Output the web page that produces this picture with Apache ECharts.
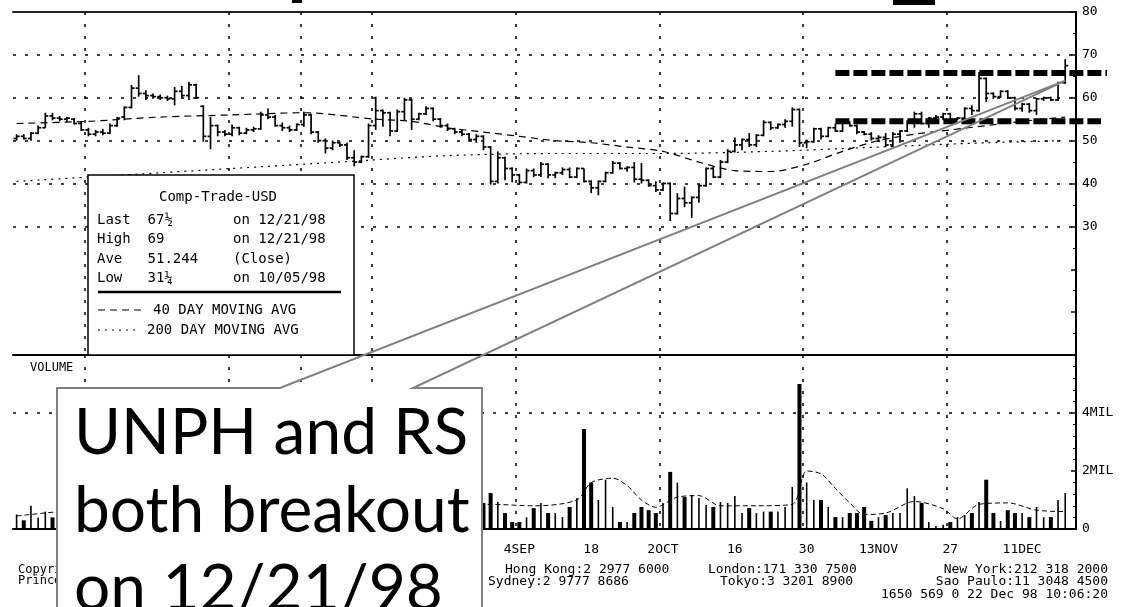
<!DOCTYPE html>
<html>
<head>
<meta charset="utf-8">
<title>UNPH breakout</title>
<script src="https://cdn.jsdelivr.net/npm/echarts@6/dist/echarts.min.js"></script>
<style>
  html, body { margin: 0; padding: 0; background: #fff; }
  #chart { width: 1121px; height: 607px; }
</style>
</head>
<body>
<div id="chart"></div>
<script>
// daily bars, [open, high, low, close], one per trading day from 29 May 1998
const bars = [
  [50.5,51.5,50,51],[51,51.5,50.25,50.5],[50.5,52,50,51.75],[51.75,53.5,51.5,53],[53,56.5,53,55.75],
  [55.75,56.5,54.75,55.25],[55.25,55.75,54.5,55],[55,55.5,54.25,55.25],[55,55.25,53.75,54],[54,54.5,52.25,52.5],
  [52.5,53,51,51.5],[51.5,52.5,51,52],[52,52.75,51.25,51.75],[51.75,54,51.5,53.5],[53.5,55.5,53.25,55.25],
  [55.5,58,54.75,57.75],[57.75,63,57.5,62.25],[62.25,65.25,60.25,61],[61,61.75,59.5,60.5],[60.5,61,59.75,60.25],
  [60.25,60.75,59.5,60],[60,60.5,59.25,59.75],[59.75,62.5,58.25,61.5],[61.5,62.75,60,60.5],[60.5,63.75,59.5,63],
  [63,63.25,59.75,60],[58,58.25,49.75,51],[51,55.5,48,53.5],[53.5,53.75,51,52],[52,52.5,51,51.5],
  [51.5,53.75,51,53],[53,53.25,51.25,51.75],[51.75,53,51.5,52.5],[52.5,53.25,52,52.75],[52.75,56.75,52.5,56],
  [56,57.5,55,55.5],[55.5,56,53.25,53.5],[53.5,54.25,52.25,53],[53,53.5,52,52.5],[52.5,54,52.25,53.75],
  [53.75,56.75,53.25,56],[56,56.25,51.5,52],[52,52.25,49.5,50],[50,50.5,47,48.25],[48.25,50,47.75,49.5],
  [49.5,49.75,48.5,49],[49,49.5,45.5,46],[46,47.75,44,45],[45,46.5,44.75,46.25],[46.25,54,46,53.5],
  [53.5,60.25,52.5,57],[57,57.25,53.25,56.5],[56.5,56.75,51,52.25],[52.25,57.25,52,56.75],[56.75,60,54.75,59.5],
  [59.5,59.75,52.5,55],[55,56.5,54.75,56.25],[56.25,58,56,57.5],[57.5,57.75,54.5,55],[55,55.25,53,53.5],
  [53.5,54,52.25,52.75],[52.75,53,51.5,52],[52,52.5,51,51.5],[51.5,51.75,49.75,50.25],[50.25,51.5,49.5,51],
  [51,51.25,47.75,48.5],[48.5,48.75,39.75,40.5],[40.5,47.5,40,46],[46,46.25,40.75,43.5],[43.5,43.75,40.25,42],
  [42,42.25,39.75,40.25],[40.25,43.5,40,43],[43,43.5,41.5,42],[42,45,41.5,44.5],[44.5,44.75,41.25,42],
  [42,42.75,41.25,42.5],[42.5,43.75,42,43.25],[43.25,43.75,41.25,41.5],[41.5,43.75,41.25,43.5],[43.5,43.5,40.25,40.5],
  [40.5,40.75,37.75,39],[39,40.75,37.25,40.5],[40.5,42.75,40.25,42.5],[42.5,45.25,42.25,44.75],[44.75,45,43.25,43.5],
  [43.5,44,42.75,43.75],[43.75,45,40.25,41],[41,44.75,40,40.75],[40.75,41,39.25,39.5],[39.5,40.5,38,38.5],
  [38.5,40.25,38.25,40],[40,40.25,31.25,33],[33,37.75,32.75,36.5],[36.5,39.25,34.5,35.5],[35.5,37,32,36.75],
  [36.75,39.75,35.5,39.5],[39.5,43.75,39.25,43.5],[43.5,44,41.25,41.5],[41.5,45.5,41.25,45],[45,48,44.75,47.5],
  [47.5,50.75,47.25,49],[49,50.5,47.75,50.25],[50.25,51.75,48.5,49],[49,51.5,48.5,51.25],[51.25,54.75,51,54.25],
  [54.25,54.5,52.5,53],[53,54,52.75,53.75],[53.75,55,53,54.5],[54.5,57.75,53.25,57.25],[57.25,57.5,48.5,49.5],
  [49.5,50.25,48.25,49.75],[49.75,53,49.5,52.75],[52.75,53,50.25,51],[51,53.25,50.75,53],[53,54,52,52.25],
  [52.25,54.5,52,54.25],[54.25,54.5,53.25,53.5],[53.5,53.75,51.5,52],[52,52.25,51.25,51.5],[51.5,52,50,50.5],
  [50.5,51.25,49.75,50.75],[50.75,51.75,48.5,49],[49,52,48.5,51.5],[51.5,52.5,49.5,52.25],[52.25,54.75,52,54.5],
  [54.5,56.75,53,56.25],[56.25,56.75,53.75,54],[54,55.5,53,55.25],[55.25,56,54,55.5],[55.5,56.5,54.75,56.25],
  [56.25,56.5,54.75,55],[55,55.5,54.75,55.25],[55.25,57.75,55,57.5],[57.5,58.25,56,57],[57,66,56.75,64.5],
  [64.5,64.75,59,61],[61,61.25,59.75,60.25],[60.25,61.75,60,61.5],[61.5,61.75,59.75,60],[60,60.25,57,57.5],
  [57.5,58.75,56.75,58.5],[58.5,58.75,56.5,57],[57,60,56,59.75],[59.75,60.25,59.25,60],[60,60.25,59.25,59.5],
  [59.5,63.75,59.25,63.5],[63.5,69,63.25,67.5]
];

// volume in millions
const volume = [
  0.5,0.3,0.8,0.4,0.6,0.4,
  0.6,0.9,0.5,0.7,1.1,0.8,0.6,0.5,1.4,1.9, 1.2,0.9,0.7,0.8,0.6,0.5,0.9,1.0,0.7,0.6,
  0.5,0.8,1.2,0.9,0.7,0.6,0.8,0.5,0.4,0.7, 0.9,1.1,0.8,0.6,0.7,0.5,0.6,0.9,1.3,1.0,
  0.8,0.7,0.6,0.9,1.2,1.5,1.1,0.8,0.7,0.6, 0.5,0.7,0.9,0.8,0.6,0.5,0.7,1.0,1.3,0.9,
  1.24,0.93,0.55,0.24,0.24,0.4,0.72,0.9,0.55,0.55,
  0.41,0.76,1.07,3.45,1.6,1.0,1.7,0.76,0.24,0.24,
  0.55,0.76,0.65,0.55,0.9,1.97,1.6,1.1,1.17,1.07,
  0.83,0.76,0.93,0.9,1.14,0.55,0.72,0.55,0.6,0.6,
  0.6,0.76,1.45,5.0,1.6,1.0,1.0,0.76,0.41,0.41,
  0.55,0.55,0.76,0.28,0.41,0.48,0.55,0.55,1.4,1.14,
  0.9,0.24,0.1,0.15,0.24,0.41,0.48,0.55,0.93,1.7,
  0.55,0.28,0.65,0.55,0.55,0.41,0.76,0.41,0.41,1.0,
  1.24
];

// moving averages, [day index, value]
const ma40 = [[0,54],[10,54.5],[20,55.5],[30,56],[40,56.5],[50,55],[55,54.5],[60,53],[65,52],[70,51],
  [75,50],[80,49.5],[85,48.5],[90,47.5],[95,45],[100,43],[105,42.8],[110,44.5],[115,47.5],[120,50],
  [125,51.5],[130,52.5],[135,53.5],[140,54.5],[146,55.5]];
const ma200 = [[0,40.5],[15,42],[30,43.5],[45,45],[60,46.5],[75,47],[90,47],[105,47.5],[120,48.5],[135,49.5],[146,50]];
const volAvg = [[0,0.45],[10,0.7],[20,0.9],[30,0.8],[40,0.7],[50,0.9],[60,0.8],[66,0.85],[72,0.8],[78,1.0],
  [80,1.6],[83,1.75],[85,1.5],[87,1.0],[89,0.75],[92,1.1],[95,1.15],[98,0.8],[103,0.8],[108,0.85],
  [110,2.0],[112,1.9],[114,1.4],[116,0.9],[118,0.5],[121,0.55],[125,0.95],[129,0.7],[131,0.35],[134,0.85],
  [138,0.9],[142,0.65],[146,0.6]];

const priceGrid = [30, 40, 50, 60, 70];
const volGrid = [4];
const resistance = [65.75, 54.5];
const tickLabels = {'6/12':'12JUN','6/26':'26','7/10':'10JUL','7/24':'24','8/7':'7AUG','8/21':'21',
  '9/4':'4SEP','9/18':'18','10/2':'2OCT','10/16':'16','10/30':'30','11/13':'13NOV','11/27':'27','12/11':'11DEC'};
const gridDates = ['6/12','7/10','7/24','8/7','9/4','10/2','10/30','11/27'];

// weekday calendar, 29 May 1998 .. 22 Dec 1998
const dates = [];
for (let t = Date.UTC(1998, 4, 29); dates.length < 148; t += 86400000) {
  const d = new Date(t);
  const wd = d.getUTCDay();
  if (wd > 0 && wd < 6) dates.push((d.getUTCMonth() + 1) + '/' + d.getUTCDate());
}

const MONO = '"DejaVu Sans Mono", monospace';
const dotted = {color: '#000', width: 1.5, type: [3, 9]};

function renderBar(params, api) {
  const i = api.value(0);
  const o = api.coord([i, api.value(1)]);
  const h = api.coord([i, api.value(2)]);
  const l = api.coord([i, api.value(3)]);
  const c = api.coord([i, api.value(4)]);
  const w = api.size([1, 0])[0] * 0.42;
  const st = {stroke: '#000', lineWidth: 1.7};
  return {type: 'group', children: [
    {type: 'line', shape: {x1: h[0], y1: h[1], x2: l[0], y2: l[1]}, style: st},
    {type: 'line', shape: {x1: o[0] - w, y1: o[1], x2: o[0], y2: o[1]}, style: st},
    {type: 'line', shape: {x1: c[0], y1: c[1], x2: c[0] + w, y2: c[1]}, style: st}
  ]};
}

function renderVol(params, api) {
  const i = api.value(0);
  const top = api.coord([i, api.value(1)]);
  const base = api.coord([i, 0]);
  const w = api.value(2) ? 4 : 1.6;
  return {type: 'rect', shape: {x: top[0] - w / 2, y: top[1], width: w, height: base[1] - top[1]}, style: {fill: '#000'}};
}

const chart = echarts.init(document.getElementById('chart'));

chart.setOption({
  animation: false,
  backgroundColor: '#fff',
  grid: [
    {left: 13, right: 45, top: 12, height: 343, outerBoundsMode: 'none'},
    {left: 13, right: 45, top: 355, height: 174, outerBoundsMode: 'none'}
  ],
  xAxis: [
    {
      type: 'category', gridIndex: 0, data: dates,
      axisLine: {lineStyle: {color: '#000', width: 2}},
      axisTick: {interval: (i) => i % 5 === 0, length: 5, lineStyle: {color: '#000', width: 1.5}},
      axisLabel: {show: false},
      splitLine: {show: true, interval: (i, v) => gridDates.includes(v), lineStyle: dotted}
    },
    {
      type: 'category', gridIndex: 0, position: 'top', data: dates,
      axisLine: {lineStyle: {color: '#222', width: 2}},
      axisTick: {show: false}, axisLabel: {show: false}
    },
    {
      type: 'category', gridIndex: 1, data: dates,
      axisLine: {lineStyle: {color: '#000', width: 2}},
      axisTick: {show: false},
      axisLabel: {
        interval: (i, v) => v in tickLabels,
        formatter: (v) => tickLabels[v] || '',
        color: '#000', fontFamily: MONO, fontSize: 13, margin: 14
      },
      splitLine: {show: true, interval: (i, v) => gridDates.includes(v), lineStyle: dotted}
    }
  ],
  yAxis: [
    {
      type: 'value', gridIndex: 0, position: 'right', min: 0, max: 80, interval: 10,
      axisLine: {show: true, lineStyle: {color: '#000', width: 2}},
      axisTick: {show: true, inside: true, length: 5, lineStyle: {color: '#000', width: 1.5}},
      minorTick: {show: true, splitNumber: 2, length: 3, lineStyle: {color: '#000'}},
      axisLabel: {formatter: (v) => v >= 30 ? String(v) : '', color: '#000', fontFamily: MONO, fontSize: 13, margin: 6},
      splitLine: {show: false}
    },
    {
      type: 'value', gridIndex: 1, position: 'right', min: 0, max: 6, interval: 2,
      axisLine: {show: true, lineStyle: {color: '#000', width: 2}},
      axisTick: {show: true, inside: true, length: 5, lineStyle: {color: '#000', width: 1.5}},
      minorTick: {show: true, splitNumber: 5, length: 3, lineStyle: {color: '#000'}},
      axisLabel: {formatter: (v) => v === 0 ? '0' : (v < 6 ? v + 'MIL' : ''), color: '#000', fontFamily: MONO, fontSize: 13, margin: 6},
      splitLine: {show: false}
    }
  ],
  series: [
    {
      type: 'custom', name: 'price', xAxisIndex: 0, yAxisIndex: 0,
      renderItem: renderBar,
      encode: {x: 0, y: [1, 2, 3, 4]},
      data: bars.map((b, i) => [i, b[0], b[1], b[2], b[3]]),
      z: 5
    },
    {
      type: 'line', name: '40 DAY MOVING AVG', xAxisIndex: 0, yAxisIndex: 0,
      data: ma40, showSymbol: false, smooth: 0.3,
      lineStyle: {color: '#000', width: 1.2, type: [7, 5]},
      markLine: {
        silent: true, symbol: ['none', 'none'], label: {show: false},
        lineStyle: dotted,
        data: priceGrid.map((v) => ({yAxis: v}))
      },
      z: 3
    },
    {
      type: 'line', name: '200 DAY MOVING AVG', xAxisIndex: 0, yAxisIndex: 0,
      data: ma200, showSymbol: false, smooth: 0.3,
      lineStyle: {color: '#000', width: 1.2, type: [2, 5]},
      z: 3
    },
    {
      type: 'custom', name: 'volume', xAxisIndex: 2, yAxisIndex: 1,
      renderItem: renderVol,
      encode: {x: 0, y: 1},
      data: volume.map((v, i) => [i, v, bars[i][3] < bars[i][0] ? 1 : 0]),
      z: 5
    },
    {
      type: 'line', name: 'volume avg', xAxisIndex: 2, yAxisIndex: 1,
      data: volAvg, showSymbol: false, smooth: 0.3,
      lineStyle: {color: '#000', width: 1, type: [5, 3]},
      markLine: {
        silent: true, symbol: ['none', 'none'], label: {show: false},
        lineStyle: dotted,
        data: volGrid.map((v) => ({yAxis: v}))
      },
      z: 4
    }
  ]
});

// annotation layer, anchored on the chart's own scales
const px = (idx, price) => chart.convertToPixel({xAxisIndex: 0, yAxisIndex: 0}, [dates[idx], price]);
const axisRight = 1121 - 45;
const apex = px(146, 64);

const txt = (text, x, y, opts) => Object.assign({
  type: 'text', z: 100,
  style: Object.assign({text: text, x: x, y: y, fill: '#000', font: '14px ' + MONO, verticalAlign: 'middle'}, opts || {})
});

const graphic = [];

// clipped title strip at the very top
graphic.push({type: 'rect', z: 100, shape: {x: 893, y: 0, width: 42, height: 5}, style: {fill: '#000'}});
graphic.push({type: 'rect', z: 100, shape: {x: 292, y: 0, width: 10, height: 3}, style: {fill: '#000'}});

// resistance levels
resistance.forEach((lvl, k) => {
  const a = px(114, lvl);
  graphic.push({type: 'line', z: 90,
    shape: {x1: a[0], y1: a[1], x2: axisRight + (k === 0 ? 31 : 25), y2: a[1]},
    style: {stroke: '#000', lineWidth: 6, lineDash: [14, 4]}});
});

// stats box
graphic.push({type: 'rect', z: 95, shape: {x: 88, y: 175, width: 266, height: 180}, style: {fill: '#fff', stroke: '#000', lineWidth: 1.5}});
graphic.push(txt('Comp-Trade-USD', 218, 197, {align: 'center'}));
[['Last  67½', 'on 12/21/98', 220], ['High  69', 'on 12/21/98', 239], ['Ave   51.244', '(Close)', 259], ['Low   31¼', 'on 10/05/98', 278]]
  .forEach((r) => { graphic.push(txt(r[0], 97, r[2])); graphic.push(txt(r[1], 233, r[2])); });
graphic.push({type: 'line', z: 100, shape: {x1: 98, y1: 292, x2: 341, y2: 292}, style: {stroke: '#000', lineWidth: 2.5}});
graphic.push({type: 'line', z: 100, shape: {x1: 98, y1: 310, x2: 145, y2: 310}, style: {stroke: '#000', lineWidth: 1.2, lineDash: [7, 5]}});
graphic.push(txt('40 DAY MOVING AVG', 153, 310));
graphic.push({type: 'line', z: 100, shape: {x1: 98, y1: 330, x2: 140, y2: 330}, style: {stroke: '#000', lineWidth: 1.2, lineDash: [2, 5]}});
graphic.push(txt('200 DAY MOVING AVG', 147, 330));

graphic.push(txt('VOLUME', 30, 368, {font: '12px ' + MONO}));

// footer
graphic.push(txt('Copyright 1998 BLOOMBERG L.P.  Frankfurt:69 920410', 18, 570, {font: '12px ' + MONO}));
graphic.push(txt('Princeton:609 279 3000  Singapore:226 3000', 18, 581, {font: '12px ' + MONO}));
graphic.push(txt('Hong Kong:2 2977 6000', 505, 570, {font: '13px ' + MONO}));
graphic.push(txt('London:171 330 7500', 708, 570, {font: '13px ' + MONO}));
graphic.push(txt('New York:212 318 2000', 1108, 570, {font: '13px ' + MONO, align: 'right'}));
graphic.push(txt('Sydney:2 9777 8686', 488, 582, {font: '13px ' + MONO}));
graphic.push(txt('Tokyo:3 3201 8900', 720, 582, {font: '13px ' + MONO}));
graphic.push(txt('Sao Paulo:11 3048 4500', 1108, 582, {font: '13px ' + MONO, align: 'right'}));
graphic.push(txt('1650 569 0 22 Dec 98 10:06:20', 1108, 595, {font: '13px ' + MONO, align: 'right'}));

// callout
graphic.push({type: 'rect', z: 110, shape: {x: 57, y: 388, width: 425, height: 230}, style: {fill: '#fff'}});
graphic.push({type: 'polyline', z: 111,
  shape: {points: [[57, 620], [57, 388], [280, 388], apex, [413, 388], [482, 388], [482, 620]]},
  style: {stroke: '#808080', lineWidth: 2, fill: null}});
['UNPH and RS', 'both breakout', 'on 12/21/98'].forEach((line, k) => {
  graphic.push({type: 'text', z: 112,
    style: {text: line, x: 74, y: 433 + k * 78, fill: '#000', font: '64px Lato', verticalAlign: 'middle'}});
});

chart.setOption({graphic: graphic});
</script>
</body>
</html>
